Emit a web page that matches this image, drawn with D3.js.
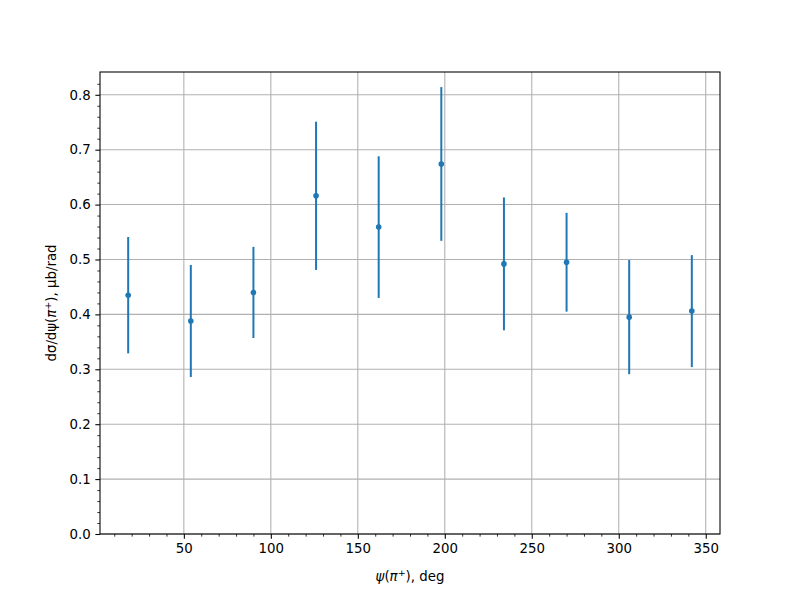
<!DOCTYPE html>
<html><head><meta charset="utf-8">
<script src="https://cdn.jsdelivr.net/npm/d3@7/dist/d3.min.js"></script>
<style>body{margin:0;background:#fff}svg text{font-family:"DejaVu Sans",sans-serif;font-size:13.33px;fill:#000}</style>
</head><body><svg id="c" width="800" height="600"></svg>
<script>
const angles = [18, 54, 90, 126, 162, 198, 234, 270, 306, 342];
const values = [0.435, 0.388, 0.440, 0.616, 0.559, 0.674, 0.492, 0.495, 0.395, 0.406];
const errors = [0.106, 0.102, 0.083, 0.135, 0.129, 0.140, 0.121, 0.090, 0.104, 0.102];
const xTicks = [50, 100, 150, 200, 250, 300, 350];
const yTicks = [0, 0.1, 0.2, 0.3, 0.4, 0.5, 0.6, 0.7, 0.8];

const svg = d3.select("#c");
const L = 100, R = 720, T = 72, B = 534;
const x = d3.scaleLinear().domain([1.8, 358.2]).range([L, R]);
const y = d3.scaleLinear().domain([0, 0.8415]).range([B, T]);
const blue = "#1f77b4";

// grid
const g = svg.append("g");
g.selectAll(".gx").data(xTicks).join("line")
  .attr("x1", d => x(d)).attr("x2", d => x(d)).attr("y1", T).attr("y2", B)
  .attr("stroke", "#b0b0b0").attr("stroke-width", 1.07);
g.selectAll(".gy").data(yTicks).join("line")
  .attr("x1", L).attr("x2", R).attr("y1", d => y(d)).attr("y2", d => y(d))
  .attr("stroke", "#b0b0b0").attr("stroke-width", 1.07);

// error bars
svg.append("g").selectAll("line").data(angles).join("line")
  .attr("x1", (d) => x(d)).attr("x2", d => x(d))
  .attr("y1", (d, i) => y(values[i] - errors[i])).attr("y2", (d, i) => y(values[i] + errors[i]))
  .attr("stroke", blue).attr("stroke-width", 2);
svg.append("g").selectAll("circle").data(angles).join("circle")
  .attr("cx", d => x(d)).attr("cy", (d, i) => y(values[i])).attr("r", 2.8).attr("fill", blue);

// axes
const xAxis = d3.axisBottom(x).tickValues(xTicks).tickSize(4.67).tickPadding(4.67).tickFormat(d3.format("d"));
const xg = svg.append("g").attr("transform", `translate(0,${B})`).call(xAxis);
const yAxis = d3.axisLeft(y).tickValues(yTicks).tickSize(4.67).tickPadding(4.67).tickFormat(d3.format(".1f"));
const yg = svg.append("g").attr("transform", `translate(${L},0)`).call(yAxis);
[xg, yg].forEach(a => {
  a.select(".domain").remove();
  a.selectAll("line").attr("stroke", "#000").attr("stroke-width", 1.07);
  a.selectAll("text").attr("font-family", "DejaVu Sans").attr("font-size", 13.33).attr("fill", "#000");
});
// minor ticks
const xMinor = d3.range(10, 360, 10).filter(v => v % 50 !== 0);
svg.append("g").attr("transform", `translate(0,${B})`).call(
  d3.axisBottom(x).tickValues(xMinor).tickSize(2.67).tickFormat("")).call(a => {
    a.select(".domain").remove(); a.selectAll("line").attr("stroke", "#000").attr("stroke-width", 0.8);
  });
const yMinor = d3.range(1, 42).map(v => v * 0.02).filter(v => Math.abs(v * 10 - Math.round(v * 10)) > 1e-6 && v <= 0.8415);
svg.append("g").attr("transform", `translate(${L},0)`).call(
  d3.axisLeft(y).tickValues(yMinor).tickSize(2.67).tickFormat("")).call(a => {
    a.select(".domain").remove(); a.selectAll("line").attr("stroke", "#000").attr("stroke-width", 0.8);
  });

// frame
svg.append("rect").attr("x", L).attr("y", T).attr("width", R - L).attr("height", B - T)
  .attr("fill", "none").attr("stroke", "#000").attr("stroke-width", 1.07);

// labels
const xl = svg.append("text").attr("x", (L + R) / 2).attr("y", 581).attr("text-anchor", "middle");
xl.append("tspan").attr("font-style", "italic").text("ψ");
xl.append("tspan").text("(");
xl.append("tspan").attr("font-style", "italic").text("π");
xl.append("tspan").attr("font-size", 9.5).attr("dy", -5).text("+");
xl.append("tspan").attr("dy", 5).text("), deg");

const yl = svg.append("text").attr("transform", `translate(56,${(T + B) / 2}) rotate(-90)`).attr("text-anchor", "middle");
yl.append("tspan").text("dσ/dψ(");
yl.append("tspan").attr("font-style", "italic").text("π");
yl.append("tspan").attr("font-size", 9.5).attr("dy", -5).text("+");
yl.append("tspan").attr("dy", 5).text("), μb/rad");
</script></body></html>
